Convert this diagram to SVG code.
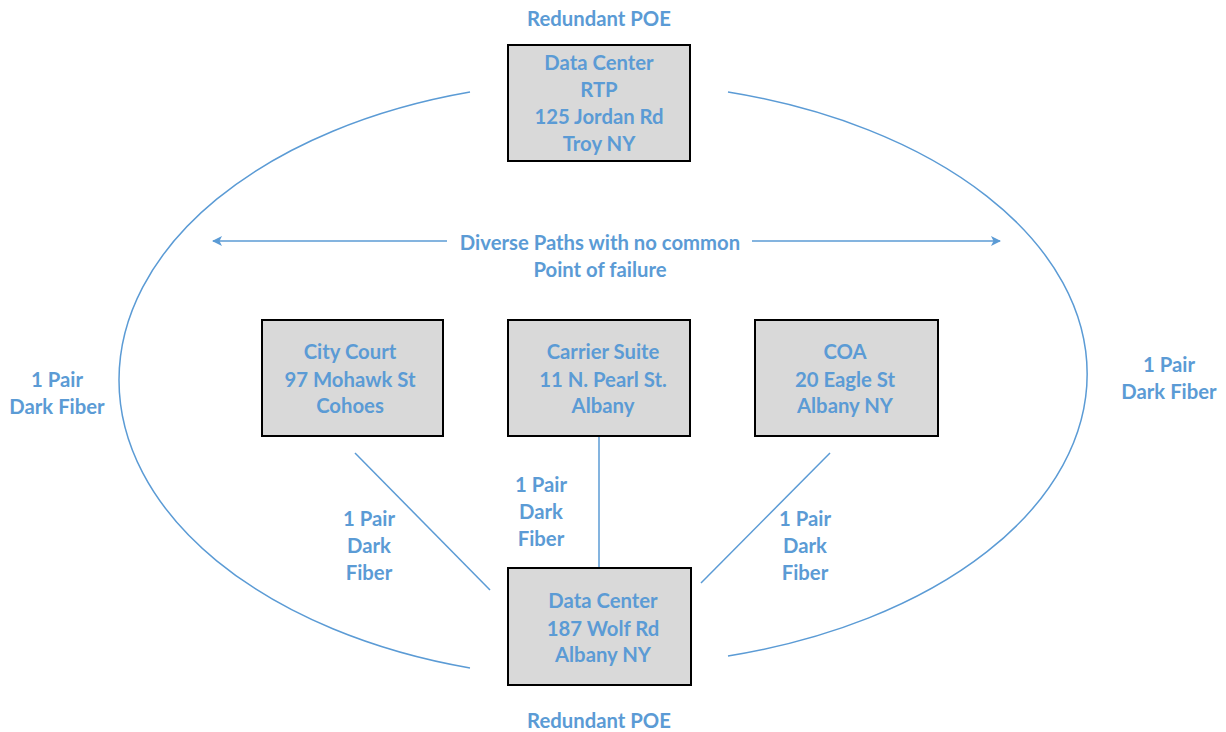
<svg xmlns="http://www.w3.org/2000/svg" width="1226" height="732" viewBox="0 0 1226 732">
<style>
text{font-family:"Lato","Liberation Sans",sans-serif;font-weight:bold;font-size:20.3px;fill:#5B9BD5;text-anchor:middle}
.box{fill:#D9D9D9;stroke:#000;stroke-width:2}
.ln{fill:none;stroke:#5B9BD5;stroke-width:1.5}
</style>
<defs>
<marker id="ah" viewBox="0 0 10 10" refX="9" refY="5" markerWidth="10" markerHeight="10" markerUnits="userSpaceOnUse" orient="auto-start-reverse">
<path d="M0,0 L10,5 L0,10 L2.5,5 Z" fill="#5B9BD5"/>
</marker>
</defs>
<rect width="1226" height="732" fill="#fff"/>
<g id="connectors">
<path class="ln" d="M470,92 A480,299 0 0 0 470,668"/>
<path class="ln" d="M728,92 A485,292 0 0 1 728,656"/>
<line class="ln" x1="213" y1="241" x2="1000" y2="241" marker-start="url(#ah)" marker-end="url(#ah)"/>
<line class="ln" x1="355" y1="453" x2="490" y2="590"/>
<line class="ln" x1="599" y1="436" x2="599" y2="568"/>
<line class="ln" x1="830" y1="453" x2="701" y2="583"/>
<rect x="447" y="228" width="305" height="52" fill="#fff"/>
<text x="600" y="250">Diverse Paths with no common</text>
<text x="600" y="277">Point of failure</text>
<text x="369" y="526">1 Pair</text><text x="369" y="553">Dark</text><text x="369" y="580">Fiber</text>
<text x="541" y="492">1 Pair</text><text x="541" y="519">Dark</text><text x="541" y="546">Fiber</text>
<text x="805" y="526">1 Pair</text><text x="805" y="553">Dark</text><text x="805" y="580">Fiber</text>
<text x="57" y="387">1 Pair</text><text x="57" y="414">Dark Fiber</text>
<text x="1169" y="372">1 Pair</text><text x="1169" y="399">Dark Fiber</text>
</g>
<g id="label-top"><text x="599" y="26">Redundant POE</text></g>
<g id="label-bottom"><text x="599" y="728">Redundant POE</text></g>
<g id="dc-rtp">
<rect class="box" x="508" y="45" width="182" height="116"/>
<text x="599" y="70">Data Center</text><text x="599" y="97">RTP</text><text x="599" y="124">125 Jordan Rd</text><text x="599" y="151">Troy NY</text>
</g>
<g id="city-court">
<rect class="box" x="262" y="320" width="181" height="116"/>
<text x="350" y="359">City Court</text><text x="350" y="387">97 Mohawk St</text><text x="350" y="413">Cohoes</text>
</g>
<g id="carrier-suite">
<rect class="box" x="508" y="320" width="182" height="116"/>
<text x="603" y="359">Carrier Suite</text><text x="603" y="387">11 N. Pearl St.</text><text x="603" y="413">Albany</text>
</g>
<g id="coa">
<rect class="box" x="755" y="320" width="183" height="116"/>
<text x="845" y="359">COA</text><text x="845" y="387">20 Eagle St</text><text x="845" y="413">Albany NY</text>
</g>
<g id="dc-wolf">
<rect class="box" x="508" y="568" width="183" height="117"/>
<text x="603" y="608">Data Center</text><text x="603" y="636">187 Wolf Rd</text><text x="603" y="662">Albany NY</text>
</g>
</svg>
